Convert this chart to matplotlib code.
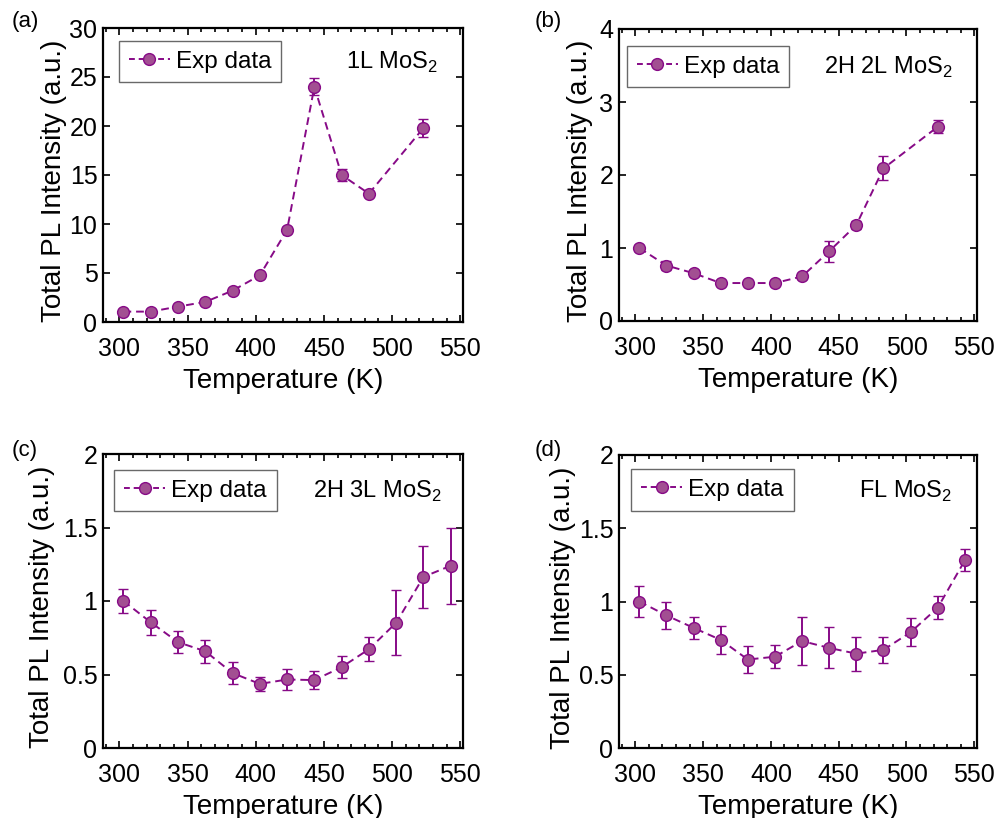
import matplotlib
matplotlib.use("Agg")
import matplotlib.pyplot as plt
from matplotlib.ticker import MultipleLocator
from matplotlib.lines import Line2D

plt.rcParams['font.family'] = ['Liberation Sans', 'DejaVu Sans']
plt.rcParams['mathtext.fontset'] = 'custom'
plt.rcParams['mathtext.rm'] = 'Liberation Sans'

# ---- data ----
temp_a = [303, 323, 343, 363, 383, 403, 423, 443, 463, 483, 523]
int_a = [1.06, 1.06, 1.57, 2.05, 3.2, 4.76, 9.4, 24.0, 15.0, 13.1, 19.8]
err_a = [0.2, 0.2, 0.2, 0.25, 0.25, 0.3, 0.3, 0.85, 0.6, 0.2, 0.9]

temp_b = [303, 323, 343, 363, 383, 403, 423, 443, 463, 483, 523]
int_b = [1.0, 0.76, 0.655, 0.52, 0.52, 0.52, 0.61, 0.955, 1.315, 2.09, 2.66]
err_b = [0.04, 0.06, 0.04, 0.03, 0.03, 0.03, 0.03, 0.14, 0.05, 0.165, 0.09]

temp_c = [303, 323, 343, 363, 383, 403, 423, 443, 463, 483, 503, 523, 543]
int_c = [1.0, 0.855, 0.72, 0.658, 0.51, 0.436, 0.466, 0.462, 0.55, 0.672, 0.852, 1.164, 1.24]
err_c = [0.085, 0.087, 0.073, 0.078, 0.073, 0.045, 0.074, 0.06, 0.077, 0.083, 0.22, 0.21, 0.26]

temp_d = [303, 323, 343, 363, 383, 403, 423, 443, 463, 483, 503, 523, 543]
int_d = [1.0, 0.905, 0.82, 0.738, 0.604, 0.623, 0.73, 0.683, 0.644, 0.67, 0.79, 0.957, 1.28]
err_d = [0.106, 0.092, 0.076, 0.097, 0.089, 0.077, 0.164, 0.14, 0.117, 0.088, 0.095, 0.078, 0.075]

panels = ['(a)', '(b)', '(c)', '(d)']
samples = ['1L MoS$_2$', '2H 2L MoS$_2$', '2H 3L MoS$_2$', 'FL MoS$_2$']
ylims = [(0, 30), (0, 4), (0, 2), (0, 2)]
yticks = [[0, 5, 10, 15, 20, 25, 30], [0, 1, 2, 3, 4], [0, 0.5, 1, 1.5, 2], [0, 0.5, 1, 1.5, 2]]
yticklabels = [['0', '5', '10', '15', '20', '25', '30'], ['0', '1', '2', '3', '4'],
               ['0', '0.5', '1', '1.5', '2'], ['0', '0.5', '1', '1.5', '2']]
xticks = [300, 350, 400, 450, 500, 550]

line_color = '#870A87'
face_color = '#A24F92'

W, H = 997, 818
fig = plt.figure(figsize=(W / 100, H / 100), dpi=100)

boxes = [(103, 28, 463, 322), (619, 29, 977, 321), (103, 454, 463, 748), (619, 455, 977, 748)]
sample_pos = [(0.93, 0.884), (0.933, 0.87), (0.942, 0.874), (0.93, 0.877)]
leg_pos = [(0.044, 0.956), (0.022, 0.942), (0.031, 0.946), (0.034, 0.952)]
label_pos = [(25, 22), (548, 22), (25, 450), (548, 450)]
ylabel_x = [-0.10, -0.072, -0.133, -0.12]

data = [(temp_a, int_a, err_a), (temp_b, int_b, err_b), (temp_c, int_c, err_c), (temp_d, int_d, err_d)]

for i in range(4):
    x0, y0, x1, y1 = boxes[i]
    ax = fig.add_axes([x0 / W, 1 - y1 / H, (x1 - x0) / W, (y1 - y0) / H])
    t, v, e = data[i]
    ax.errorbar(t, v, yerr=e, color=line_color, ls='--', lw=1.4, dashes=(4, 2.5),
                marker='o', ms=8.5, mfc=face_color, mec=line_color, mew=1.0,
                ecolor=line_color, elinewidth=1.4, capsize=3.5, capthick=1.4)
    ax.set_xlim(288, 552)
    ax.set_ylim(*ylims[i])
    ax.set_xticks(xticks)
    ax.set_xticklabels([str(x) for x in xticks])
    ax.xaxis.set_minor_locator(MultipleLocator(10))
    ax.set_yticks(yticks[i])
    ax.set_yticklabels(yticklabels[i])
    ax.tick_params(which='both', direction='in', top=True, right=True, labelsize=18, width=1.2)
    ax.tick_params(axis='x', which='major', length=5, pad=10.5)
    ax.tick_params(axis='x', which='minor', length=3)
    ax.tick_params(axis='y', which='major', length=5, pad=4)
    for s in ax.spines.values():
        s.set_linewidth(1.6)
    ax.set_xlabel('Temperature (K)', fontsize=20, labelpad=5)
    ax.set_ylabel('Total PL Intensity (a.u.)', fontsize=20)
    ax.yaxis.set_label_coords(ylabel_x[i], 0.48)
    ax.text(sample_pos[i][0], sample_pos[i][1], samples[i], transform=ax.transAxes,
            ha='right', va='center', fontsize=17)
    handle = Line2D([], [], color=line_color, ls='--', lw=1.4, dashes=(3, 2),
                    marker='o', ms=8.5, mfc=face_color, mec=line_color, mew=1.0)
    leg = ax.legend([handle], ['Exp data'], loc='upper left', bbox_to_anchor=leg_pos[i],
                    borderaxespad=0, fontsize=17.5, fancybox=False, frameon=True,
                    handlelength=1.7, handletextpad=0.25, borderpad=0.4, numpoints=1)
    leg.get_frame().set_edgecolor('#444444')
    leg.get_frame().set_linewidth(1.0)
    fig.text(label_pos[i][0] / W, 1 - label_pos[i][1] / H, panels[i], ha='center', va='center', fontsize=16)

fig.savefig('out.png', dpi=100)
